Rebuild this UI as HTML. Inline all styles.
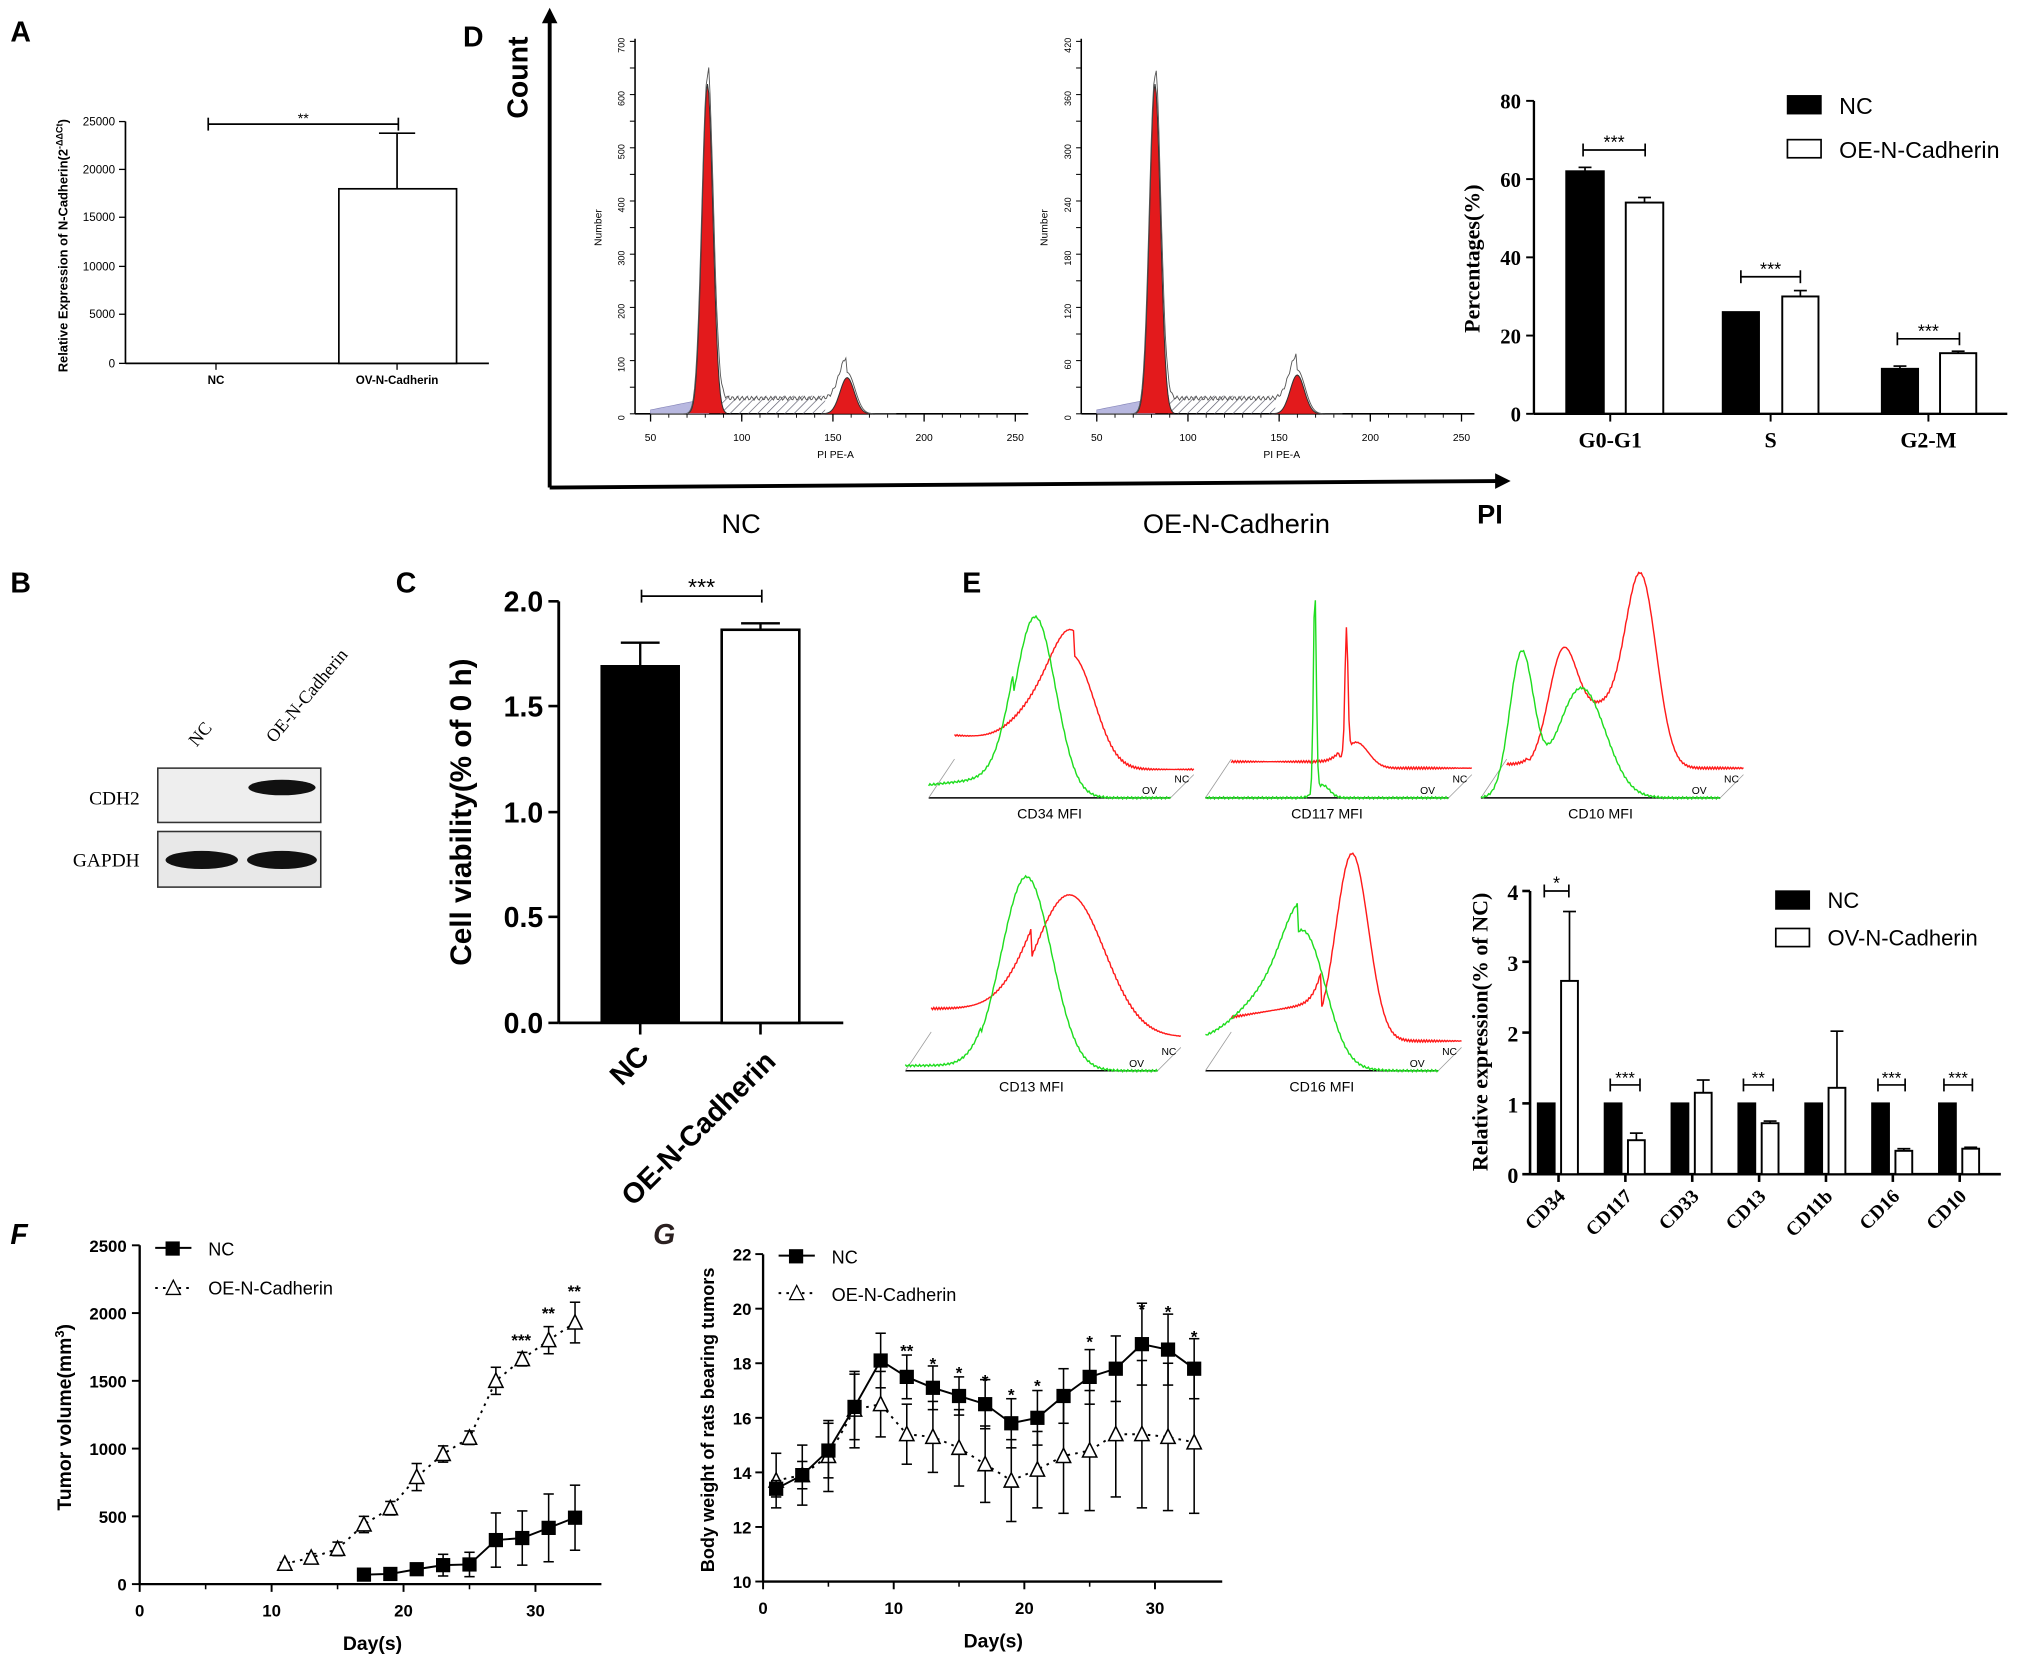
<!DOCTYPE html>
<html><head><meta charset="utf-8"><style>
html,body{margin:0;padding:0;background:#fff;}
svg{display:block;}
text{font-family:"Liberation Sans",Arial,sans-serif;}
.s{font-family:"Liberation Serif","Times New Roman",serif;}
</style></head><body>
<svg id="c" width="2028" height="1663" viewBox="0 0 1568 1286" preserveAspectRatio="none" xmlns="http://www.w3.org/2000/svg"></svg>
<script>
var o=[];
function T(x,y,t,sz,opt){opt=opt||{};o.push('<text x="'+x+'" y="'+y+'" font-size="'+sz+'"'+(opt.a?' text-anchor="'+opt.a+'"':'')+(opt.w?' font-weight="bold"':'')+(opt.i?' font-style="italic"':'')+(opt.c?' class="'+opt.c+'"':'')+(opt.r!==undefined?' transform="rotate('+opt.r+' '+x+' '+y+')"':'')+(opt.f?' fill="'+opt.f+'"':'')+'>'+t+'</text>');}
function L(x1,y1,x2,y2,w,c,d){o.push('<line x1="'+x1+'" y1="'+y1+'" x2="'+x2+'" y2="'+y2+'" stroke="'+(c||'#000')+'" stroke-width="'+(w||1)+'"'+(d?' stroke-dasharray="'+d+'"':'')+'/>');}
function R(x,y,w,h,f,sw){o.push('<rect x="'+x+'" y="'+y+'" width="'+w+'" height="'+h+'" fill="'+f+'" stroke="#000" stroke-width="'+(sw||1.5)+'"/>');}
function P(pts,c,w,f,d){o.push('<polyline points="'+pts.map(function(p){return p[0].toFixed(1)+','+p[1].toFixed(1)}).join(' ')+'" fill="'+(f||'none')+'" stroke="'+c+'" stroke-width="'+(w||1)+'"'+(d?' stroke-dasharray="'+d+'"':'')+'/>');}
function G(x,c,h,w){return h*Math.exp(-Math.pow((x-c)/w,2)/2);}
function bracket(x1,x2,y,t,sz){L(x1,y,x2,y,1.3);L(x1,y-5,x1,y+5,1.3);L(x2,y-5,x2,y+5,1.3);T((x1+x2)/2,y-1,t,sz||14,{a:'middle'});}

T(8,32,'A',22,{w:1});T(358,36,'D',22,{w:1});T(8,458,'B',22,{w:1});T(306,458,'C',22,{w:1});T(744,458,'E',22,{w:1});
T(8,962,'F',22,{w:1,i:1});T(505,962,'G',22,{w:1,i:1,f:'#2a2020'});

// ---- Panel A
L(97,94,97,281,1.3);L(97,281,378,281,1.3);
[[25000,94],[20000,131],[15000,168],[10000,206],[5000,243],[0,281]].forEach(function(t){L(92,t[1],97,t[1],1);T(89,t[1]+3,t[0],9,{a:'end'});});
L(167,281,167,286);L(307,281,307,286);
R(262,146,91,135,'#fff',1.3);L(307,146,307,103,1.3);L(293,103,321,103,1.3);
bracket(161,308,96,'**',11);
T(167,297,'NC',9,{a:'middle',w:1});T(307,297,'OV-N-Cadherin',9,{a:'middle',w:1});
T(52,190,'Relative Expression of N-Cadherin(2<tspan baseline-shift="super" font-size="7">-ΔΔCt</tspan>)',10,{a:'middle',w:1,r:-90});

// ---- Panel D big axes
L(425,377,425,16,3);o.push('<polygon points="419,18 431,18 425,6" fill="#000"/>');
L(425,377,1158,372,3);o.push('<polygon points="1156,366 1168,372 1156,378" fill="#000"/>');
T(408,60,'Count',22,{a:'middle',w:1,r:-90});
T(573,412,'NC',21,{a:'middle'});T(956,412,'OE-N-Cadherin',21,{a:'middle'});T(1152,405,'PI',21,{a:'middle',w:1});
function cyc(x0,y0,scale,ymax,p1,p1h,p2,p2h){
 var x1=x0+287, base=y0;
 L(x0-12,30,x0-12,base,1.2);L(x0-12,base,x1+5,base,1.2);
 for(var i=0;i<=14;i++){var yy=base-i*(base-32)/14;L(x0-16,yy,x0-12,yy,0.8);}
 var step=ymax/7;for(var k=0;k<=7;k++){var yy=base-k*(base-32)/7;T(x0-20,yy+3,Math.round(k*step)==0?'0':Math.round(k*step),7,{a:'middle',r:-90});}
 [50,100,150,200,250].forEach(function(v,i){var xx=x0+i*70.5;L(xx,base,xx,base+6,1);T(xx,base+21,v,8,{a:'middle'});});
 for(var j=0;j<20;j++){var xx=x0+j*14.1;L(xx,base,xx,base+3,0.7);}
 T(x0+143,base+34,'PI PE-A',8,{a:'middle'});
 T(x0-38,(base+32)/2,'Number',8,{a:'middle',r:-90});
 var bl=[[x0,base]];for(var x=x0;x<=x0+45;x+=3)bl.push([x,base-3-(x-x0)*0.2]);bl.push([x0+45,base]);P(bl,'#8888bb',0.5,'#b8b8e0');
 o.push('<rect x="'+(p1+8)+'" y="'+(base-14)+'" width="'+(p2-p1-25)+'" height="14" fill="url(#h)" stroke="none"/>');
 var pk=[];for(var x=p1-15;x<=p1+15;x+=1)pk.push([x,base-G(x,p1,p1h,4.2)]);P(pk,'#333',0.8,'#e31a1c');
 var pk2=[];for(var x=p2-20;x<=p2+20;x+=1)pk2.push([x,base-G(x,p2,p2h,5.5)]);P(pk2,'#333',0.8,'#e31a1c');
 var env=[];for(var x=x0;x<=x0+190;x+=1){var v=G(x,p1,p1h+6,4.4)+G(x,p2,p2h+4,6)+((x>p1&&x<p2)?12+Math.sin(x*1.7)*1.5:0);env.push([x,base-v]);}P(env,'#555',0.7);
}
o.push('<defs><pattern id="h" width="5" height="5" patternUnits="userSpaceOnUse" patternTransform="rotate(45)"><line x1="0" y1="0" x2="0" y2="5" stroke="#556" stroke-width="1"/></pattern></defs>');
cyc(503,320,1,700,547,255,655,28);
cyc(848,320,1,420,893,255,1003,30);

// ---- Panel D bar chart
L(1186,78,1186,320,1.8);L(1186,320,1552,320,1.8);
[0,20,40,60,80].forEach(function(v){var y=320-v*3.025;L(1180,y,1186,y,1.5);T(1176,y+6,v,16,{a:'end',w:1,c:'s'});});
function bar(x,w,v,f,e,y0,sc){var t=y0-v*sc;R(x,t,w,v*sc,f,1.5);if(e){var yy=y0-(v+e)*sc;L(x+w/2,t,x+w/2,yy,1.3);L(x+w/2-5,yy,x+w/2+5,yy,1.3);}}
bar(1211,29,62,'#000',1,320,3.025);bar(1257,29,54,'#fff',1.3,320,3.025);
bar(1332,28,26,'#000',0,320,3.025);bar(1378,28,30,'#fff',1.5,320,3.025);
bar(1455,28,11.5,'#000',0.7,320,3.025);bar(1500,28,15.5,'#fff',0.5,320,3.025);
bracket(1224,1272,116,'***',14);bracket(1346,1392,214,'***',14);bracket(1467,1515,262,'***',14);
[[1245,'G0-G1'],[1369,'S'],[1491,'G2-M']].forEach(function(a){L(a[0],320,a[0],326,1.5);T(a[0],346,a[1],17,{a:'middle',w:1,c:'s'});});
T(1144,200,'Percentages(%)',17,{a:'middle',w:1,c:'s',r:-90});
R(1382,74,26,14,'#000',1);T(1422,88,'NC',18);R(1382,108,26,14,'#fff',1.3);T(1422,122,'OE-N-Cadherin',18);

// ---- Panel B
o.push('<rect x="122" y="594" width="126" height="42" fill="#eeeeee" stroke="#333" stroke-width="1.2"/>');
o.push('<rect x="122" y="643" width="126" height="43" fill="#e8e8e8" stroke="#333" stroke-width="1.2"/>');
o.push('<ellipse cx="218" cy="609" rx="26" ry="6" fill="#111"/>');
o.push('<ellipse cx="156" cy="665" rx="28" ry="7" fill="#111"/><ellipse cx="218" cy="665" rx="27" ry="7" fill="#111"/>');
T(108,622,'CDH2',15,{a:'end',c:'s'});T(108,670,'GAPDH',15,{a:'end',c:'s'});
T(152,578,'NC',14,{c:'s',r:-50});T(212,575,'OE-N-Cadherin',14,{c:'s',r:-50});

// ---- Panel C
L(432,465,432,791,2.2);L(432,791,652,791,2.2);
[[2.0,465],[1.5,546],[1.0,628],[0.5,709],[0.0,791]].forEach(function(t){L(424,t[1],432,t[1],2);T(420,t[1]+8,t[0].toFixed(1),22,{a:'end',w:1});});
R(465,515,60,276,'#000',1.5);L(495,515,495,497,1.8);L(480,497,510,497,1.8);
R(558,487,60,304,'#fff',2);L(588,487,588,482,1.8);L(573,482,603,482,1.8);
bracket(496,589,461,'***',18);
L(495,791,495,800,2);L(588,791,588,800,2);
T(364,628,'Cell viability(% of 0 h)',23,{a:'middle',w:1,r:-90});
T(503,818,'NC',22,{a:'end',w:1,r:-45});T(601,822,'OE-N-Cadherin',22,{a:'end',w:1,r:-45});

// ---- Panel E flows
function flow(x0,x1,base,lab,green,red,gflat,rflat){
 var w=x1-x0;
 L(x0,base,x1,base,1.2);L(x0,base,x0+20,base-30,0.6,'#999');L(x1,base,x1+18,base-18,0.6,'#999');
 T((x0+x1)/2,base+16,lab,11,{a:'middle'});T(x1-22,base-3,'OV',8);T(x1+3,base-12,'NC',8);
 var g=[],r=[];
 for(var x=x0;x<=x1;x+=1){var t=(x-x0)/w,v=gflat(t);green.forEach(function(c){v+=G(t,c[0],c[1],c[2]);});v+=Math.sin(x*2.3)*0.8;g.push([x,base-v]);}
 for(var x=x0+20;x<=x1+18;x+=1){var t=(x-x0)/w,v=rflat(t);red.forEach(function(c){v+=G(t,c[0],c[1],c[2]);});v+=Math.sin(x*3.1)*0.8;r.push([x,base-18-v]);}
 P(r,'#ff1a1a',1.1);P(g,'#1fdd1f',1.1);
}
flow(718,905,617,'CD34 MFI',[[0.44,140,0.085]],[[0.6,80,0.09],[0.45,25,0.1]],function(t){return t<0.35?10+t*20:0;},function(t){return t<0.6?32-t*15:4;});
flow(932,1120,617,'CD117 MFI',[[0.45,155,0.006],[0.48,10,0.03]],[[0.58,95,0.006],[0.62,20,0.05]],function(t){return 0;},function(t){return t<0.55?10:5;});
flow(1145,1330,617,'CD10 MFI',[[0.17,110,0.05],[0.42,85,0.1]],[[0.34,80,0.06],[0.67,140,0.065],[0.5,45,0.1]],function(t){return 0;},function(t){return t<0.2?8:5;});
flow(700,895,828,'CD13 MFI',[[0.48,150,0.1]],[[0.65,110,0.14]],function(t){return t<0.3?4:0;},function(t){return t<0.5?30:8;});
flow(932,1112,828,'CD16 MFI',[[0.43,80,0.09],[0.3,40,0.15]],[[0.63,145,0.07]],function(t){return t<0.4?22:0;},function(t){return t<0.5?20+t*30:5;});

// E bar chart
L(1183,689,1183,908,2);L(1183,908,1547,908,2);
[0,1,2,3,4].forEach(function(v){var y=908-v*54.75;L(1177,y,1183,y,2);T(1174,y+7,v,17,{a:'end',w:1,c:'s'});});
var eg=[['CD34',2.73,0.98],['CD117',0.48,0.1],['CD33',1.15,0.18],['CD13',0.72,0.03],['CD11b',1.22,0.8],['CD16',0.33,0.03],['CD10',0.36,0.02]];
eg.forEach(function(g,i){var x=1189+i*51.7;bar(x,13,1,'#000',0,908,54.75);bar(x+18,13,g[1],'#fff',g[2],908,54.75);L(x+16,908,x+16,914,2);T(x+22,926,g[0],15,{a:'end',w:1,c:'s',r:-45});});
bracket(1194,1213,689,'*',14);bracket(1245,1268,839,'***',13);bracket(1348,1371,839,'**',13);bracket(1452,1473,839,'***',13);bracket(1503,1525,839,'***',13);
T(1150,798,'Relative expression(% of NC)',17,{a:'middle',w:1,c:'s',r:-90});
R(1373,689,26,14,'#000',1);T(1413,702,'NC',17);R(1373,718,26,14,'#fff',1.3);T(1413,731,'OV-N-Cadherin',17);

// ---- Panel F
L(108,963,108,1225,1.8);L(108,1225,465,1225,1.8);
[0,500,1000,1500,2000,2500].forEach(function(v){var y=1225-v*0.1048;L(102,y,108,y,1.5);T(98,y+5,v,13,{a:'end',w:1});});
[0,10,20,30].forEach(function(v){var x=108+v*10.2;L(x,1225,x,1231,1.5);T(x,1250,v,13,{a:'middle',w:1});});
for(var d=5;d<35;d+=10)L(108+d*10.2,1225,108+d*10.2,1229,1.2);
T(288,1276,'Day(s)',15,{a:'middle',w:1});
T(55,1096,'Tumor volume(mm<tspan baseline-shift="super" font-size="10">3</tspan>)',15,{a:'middle',w:1,r:-90});
function series(xs,ys,es,xf,yf,sym,dash){
 var pts=xs.map(function(x,i){return [xf(x),yf(ys[i])];});
 P(pts,'#000',1.5,'none',dash);
 pts.forEach(function(p,i){var a=yf(ys[i]+es[i]),b=yf(ys[i]-es[i]);L(p[0],a,p[0],b,1.2);L(p[0]-4,a,p[0]+4,a,1.2);L(p[0]-4,b,p[0]+4,b,1.2);
 if(sym=='s')o.push('<rect x="'+(p[0]-5.5)+'" y="'+(p[1]-5.5)+'" width="11" height="11" fill="#000"/>');
 else o.push('<polygon points="'+p[0]+','+(p[1]-6)+' '+(p[0]-5.5)+','+(p[1]+5)+' '+(p[0]+5.5)+','+(p[1]+5)+'" fill="#fff" stroke="#000" stroke-width="1.2"/>');});
}
var fx=function(d){return 108+d*10.2;},fy=function(v){return 1225-v*0.1048;};
series([11,13,15,17,19,21,23,25,27,29,31,33],[150,195,260,440,560,790,960,1080,1500,1660,1800,1930],[10,30,50,60,50,100,60,50,100,50,100,150],fx,fy,'t','2,4');
series([17,19,21,23,25,27,29,31,33],[70,75,110,140,145,325,340,415,490],[10,15,30,80,90,200,200,250,240],fx,fy,'s');
T(403,1041,'***',13,{a:'middle',w:1});T(424,1020,'**',13,{a:'middle',w:1});T(444,1003,'**',13,{a:'middle',w:1});
L(120,965,148,965,1.5);o.push('<rect x="128" y="960" width="11" height="11" fill="#000"/>');T(161,971,'NC',14);
L(120,996,148,996,1.5,'#000','2,4');o.push('<polygon points="134,990 128.5,1001 139.5,1001" fill="#fff" stroke="#000"/>');T(161,1001,'OE-N-Cadherin',14);

// ---- Panel G
L(590,970,590,1223,1.8);L(590,1223,945,1223,1.8);
[10,12,14,16,18,20,22].forEach(function(v){var y=1223-(v-10)*21.1;L(584,y,590,y,1.5);T(581,y+5,v,13,{a:'end',w:1});});
[0,10,20,30].forEach(function(v){var x=590+v*10.1;L(x,1223,x,1229,1.5);T(x,1248,v,13,{a:'middle',w:1});});
for(var d=5;d<35;d+=10)L(590+d*10.1,1223,590+d*10.1,1227,1.2);
T(768,1274,'Day(s)',15,{a:'middle',w:1});
T(552,1098,'Body weight of rats bearing tumors',14,{a:'middle',w:1,r:-90});
var gx=function(d){return 590+d*10.1;},gy=function(v){return 1223-(v-10)*21.1;};
var days=[1,3,5,7,9,11,13,15,17,19,21,23,25,27,29,31,33];
series(days,[13.7,13.9,14.6,16.3,16.5,15.4,15.3,14.9,14.3,13.7,14.1,14.6,14.8,15.4,15.4,15.3,15.1],[1,1.1,1.3,1.4,1.2,1.1,1.3,1.4,1.4,1.5,1.4,2.1,2.2,2.3,2.7,2.7,2.6],gx,gy,'t','2,4');
series(days,[13.4,13.9,14.8,16.4,18.1,17.5,17.1,16.8,16.5,15.8,16,16.8,17.5,17.8,18.7,18.5,17.8],[0.3,0.5,1,1.2,1,0.8,0.8,0.7,0.9,0.9,1,1,1,1.2,1.5,1.3,1.1],gx,gy,'s');
[[11,'**'],[13,'*'],[15,'*'],[17,'*'],[19,'*'],[21,'*'],[25,'*'],[29,'*'],[31,'*'],[33,'*']].forEach(function(a){var yy={11:1049,13:1059,15:1066,17:1072,19:1083,21:1076,25:1042,29:1017,31:1019,33:1038}[a[0]];T(gx(a[0]),yy,a[1],13,{a:'middle',w:1});});
L(602,971,630,971,1.5);o.push('<rect x="610" y="966" width="11" height="11" fill="#000"/>');T(643,977,'NC',14);
L(602,1000,630,1000,1.5,'#000','2,4');o.push('<polygon points="616,994 610.5,1005 621.5,1005" fill="#fff" stroke="#000"/>');T(643,1006,'OE-N-Cadherin',14);

document.getElementById('c').innerHTML=o.join('');
</script>
</body></html>
